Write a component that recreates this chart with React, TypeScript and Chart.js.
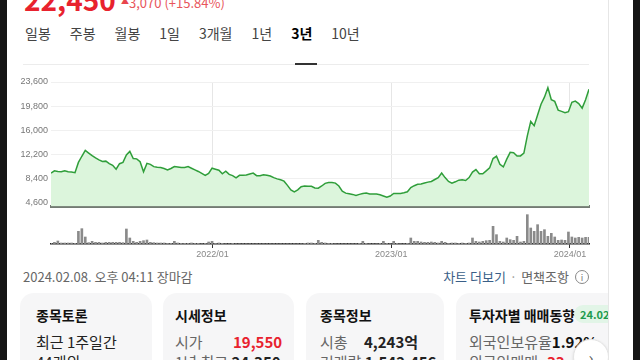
import React, { useEffect, useRef } from "react";
import { Chart, registerables } from "chart.js";

Chart.register(...registerables);

// ---- data ----
const START_DATE = Date.UTC(2021, 1, 5); // first weekly point (Friday)
const DAY_MS = 86400000;

const prices = [
  9270, 9630, 9530, 9480, 9630, 9480, 9430, 9330, 10950, 11920,
  12830, 12420, 12020, 11660, 11360, 11100, 11150, 10750, 10490, 9880,
  10750, 10950, 12120, 12680, 11560, 11510, 11050, 9480, 10800, 10650,
  10290, 10190, 10140, 9990, 9780, 9990, 10290, 10240, 10140, 10140,
  10290, 10040, 9780, 9530, 9220, 8920, 9220, 10040, 9880, 9730,
  9170, 9580, 9070, 8870, 8510, 8920, 8920, 8970, 9120, 9270,
  8870, 8870, 9020, 8920, 8820, 8560, 8360, 8210, 8000, 7340,
  6630, 6330, 6630, 7140, 7240, 7190, 7190, 6940, 6890, 7240,
  7650, 7800, 7800, 7700, 7240, 6430, 6120, 6020, 5920, 5770,
  5920, 6070, 6120, 5970, 5970, 5970, 5870, 5670, 5460, 5670,
  6070, 6070, 6070, 6180, 6330, 6990, 7290, 7500, 7550, 7700,
  7850, 7950, 8260, 8560, 9270, 8560, 7950, 7700, 7900, 8160,
  8210, 8110, 8560, 9430, 9830, 9170, 9170, 9630, 10090, 11560,
  11920, 10650, 10240, 11460, 12530, 12480, 11970, 11970, 12420, 15120,
  17400, 16740, 18420, 20100, 21210, 22700, 20810, 20550, 19180, 18980,
  18770, 18930, 20400, 20600, 20200, 19490, 20810, 22450,
];

const volumes = [
  200, 500, 900, 300, 300, 300, 300, 200, 3800, 4600,
  2100, 400, 800, 500, 500, 300, 500, 500, 500, 500,
  500, 400, 4500, 1800, 800, 500, 800, 1000, 1200, 500,
  400, 300, 300, 300, 200, 200, 800, 300, 200, 200,
  200, 300, 200, 200, 100, 200, 600, 800, 200, 300,
  200, 100, 100, 200, 100, 100, 100, 100, 100, 100,
  100, 100, 100, 100, 100, 100, 100, 100, 100, 100,
  100, 100, 100, 100, 200, 300, 300, 200, 1100, 500,
  300, 200, 200, 100, 100, 100, 100, 100, 100, 100,
  200, 800, 200, 100, 100, 100, 200, 800, 200, 100,
  800, 200, 100, 100, 200, 1800, 800, 800, 600, 500,
  500, 600, 500, 300, 800, 500, 200, 300, 300, 200,
  300, 200, 300, 1800, 800, 600, 800, 1000, 1100, 5300,
  2800, 800, 600, 1800, 1300, 1100, 2300, 600, 800, 8800,
  4800, 3800, 5800, 3800, 4300, 2300, 3200, 2100, 1100, 1200,
  1100, 3600, 2100, 1800, 2000, 1800, 2000, 2000,
];

const weekDates = prices.map((_, i) => START_DATE + i * 7 * DAY_MS);
const priceTicks = [4600, 8400, 12200, 16000, 19800, 23600];
const yearTickDates = [Date.UTC(2022, 0, 1), Date.UTC(2023, 0, 1), Date.UTC(2024, 0, 1)];
const yearTickLabels = ["2022/01", "2023/01", "2024/01"];
const tabs = ["일봉", "주봉", "월봉", "1일", "3개월", "1년", "3년", "10년"];
const activeTab = "3년";

const LINE_COLOR = "#2f9e3a";
const FILL_COLOR = "#dcf5dc";
const KR = '"Noto Sans CJK KR", "Noto Sans", sans-serif';
const TICK_FONT = { family: '"Liberation Sans", Arial, sans-serif', size: 9 };

function PriceChart() {
  const ref = useRef<HTMLCanvasElement>(null);
  useEffect(() => {
    const chart = new Chart(ref.current!, {
      type: "line",
      data: {
        datasets: [
          {
            data: weekDates.map((d, i) => ({ x: d, y: prices[i] })),
            borderColor: LINE_COLOR,
            backgroundColor: FILL_COLOR,
            borderWidth: 1.5,
            pointRadius: 0,
            fill: "start",
            tension: 0,
          },
        ],
      },
      options: {
        responsive: false,
        animation: false,
        devicePixelRatio: 1,
        layout: { padding: { left: 0, right: 51, top: 12, bottom: 4 } },
        plugins: { legend: { display: false }, tooltip: { enabled: false } },
        scales: {
          x: {
            type: "linear",
            min: weekDates[0],
            max: weekDates[weekDates.length - 1],
            afterBuildTicks: (s: any) => {
              s.ticks = yearTickDates.map((v) => ({ value: v }));
            },
            ticks: { display: false },
            grid: { color: "#e6e6e6", drawTicks: false },
            border: { display: true, color: "#737b73", width: 3 },
          },
          y: {
            min: 4000,
            max: 23600,
            afterBuildTicks: (s: any) => {
              s.ticks = priceTicks.map((v) => ({ value: v }));
            },
            afterFit: (s: any) => {
              s.width = 51;
            },
            ticks: {
              padding: 3,
              color: "#777",
              font: TICK_FONT,
              callback: (v: any) => Number(v).toLocaleString("en-US"),
            },
            grid: { color: "#f0f0f0", drawTicks: false },
            border: { display: false },
          },
        },
      } as any,
    });
    return () => chart.destroy();
  }, []);
  return (
    <canvas
      ref={ref}
      width={640}
      height={145}
      style={{ position: "absolute", left: 0, top: 70, width: 640, height: 145 }}
    />
  );
}

function VolumeChart() {
  const ref = useRef<HTMLCanvasElement>(null);
  useEffect(() => {
    const chart = new Chart(ref.current!, {
      type: "bar",
      data: {
        datasets: [
          {
            data: weekDates.map((d, i) => ({ x: d, y: volumes[i] })),
            backgroundColor: "#8a8a8a",
            barThickness: 2,
          },
        ],
      },
      options: {
        responsive: false,
        animation: false,
        devicePixelRatio: 1,
        layout: { padding: { left: 51, right: 51, top: 9, bottom: 0 } },
        plugins: { legend: { display: false }, tooltip: { enabled: false } },
        scales: {
          x: {
            type: "linear",
            offset: false,
            min: weekDates[0],
            max: weekDates[weekDates.length - 1],
            afterBuildTicks: (s: any) => {
              s.ticks = yearTickDates.map((v) => ({ value: v }));
            },
            afterFit: (s: any) => {
              s.height = 16;
            },
            ticks: {
              padding: 1,
              color: "#888",
              font: TICK_FONT,
              maxRotation: 0,
              callback: (_v: any, i: number) => yearTickLabels[i],
            },
            grid: { drawOnChartArea: false, drawTicks: true, tickLength: 4, tickColor: "#333", offset: false },
            border: { display: true, color: "#222", width: 1.5 },
          },
          y: { display: false, min: 0, max: 9000 },
        },
      } as any,
    });
    return () => chart.destroy();
  }, []);
  return (
    <canvas
      ref={ref}
      width={640}
      height={55}
      style={{ position: "absolute", left: 0, top: 205, width: 640, height: 55 }}
    />
  );
}

const abs = (left: number, top: number, extra: React.CSSProperties = {}): React.CSSProperties => ({
  position: "absolute",
  left,
  top,
  whiteSpace: "nowrap",
  ...extra,
});

function Card({ left, width, children }: { left: number; width: number; children?: React.ReactNode }) {
  return (
    <div
      style={{
        position: "absolute",
        left,
        top: 293,
        width,
        height: 100,
        background: "#f6f6f7",
        borderRadius: 14,
      }}
    >
      {children}
    </div>
  );
}

export default function App() {
  const t = { fontSize: 14, fontWeight: 700, color: "#111", lineHeight: "14px" } as React.CSSProperties;
  const row = { fontSize: 15, color: "#222", lineHeight: "15px" } as React.CSSProperties;
  const label = { ...row, color: "#666" } as React.CSSProperties;
  return (
    <div
      style={{
        position: "fixed",
        left: 0,
        top: 0,
        width: 640,
        height: 360,
        overflow: "hidden",
        background: "#fff",
        fontFamily: KR,
      }}
    >
      <div style={{ position: "absolute", left: 0, top: 0, width: 608, height: 360, overflow: "hidden" }}>
        {/* price header */}
        <div style={abs(24, -15, { fontSize: 28, fontWeight: 700, color: "#e8222e", lineHeight: "28px" })}>22,450</div>
        <div style={abs(121, -3, { fontSize: 8, color: "#e8454d", lineHeight: "8px" })}>▲</div>
        <div style={abs(129, -4, { fontSize: 13, color: "#e8555b", lineHeight: "13px" })}>3,070 (+15.84%)</div>

        {/* tabs */}
        <div style={{ position: "absolute", left: 25, top: 26, display: "flex", gap: 19 }}>
          {tabs.map((tb) => (
            <div
              key={tb}
              style={{
                fontSize: 14,
                lineHeight: "14px",
                color: tb === activeTab ? "#000" : "#444",
                fontWeight: tb === activeTab ? 700 : 400,
              }}
            >
              {tb}
            </div>
          ))}
        </div>
        <div style={abs(23, 64, { width: 566, height: 1, background: "#ececec" })} />
        <div style={abs(295, 63, { width: 22, height: 2, background: "#333" })} />

        <PriceChart />
        <VolumeChart />

        {/* footer line */}
        <div style={abs(23, 270, { fontSize: 13, color: "#666", lineHeight: "14px" })}>2024.02.08. 오후 04:11 장마감</div>
        <div
          style={{
            position: "absolute",
            right: 19,
            top: 270,
            display: "flex",
            alignItems: "center",
            gap: 4,
            fontSize: 13,
            lineHeight: "14px",
            whiteSpace: "nowrap",
          }}
        >
          <span style={{ color: "#3a5f88" }}>차트 더보기</span>
          <span style={{ color: "#999" }}>·</span>
          <span style={{ color: "#666" }}>면책조항</span>
          <span
            style={{
              display: "inline-flex",
              alignItems: "center",
              justifyContent: "center",
              width: 12,
              height: 12,
              borderRadius: "50%",
              border: "1px solid #888",
              color: "#777",
              fontSize: 9,
              lineHeight: "9px",
              marginLeft: 2,
            }}
          >
            i
          </span>
        </div>

        {/* cards */}
        <Card left={20} width={132}>
          <div style={abs(16, 15, t)}>종목토론</div>
          <div style={abs(16, 41, row)}>최근 1주일간</div>
          <div style={abs(16, 61, row)}>44개의</div>
        </Card>
        <Card left={163} width={131}>
          <div style={abs(12, 15, t)}>시세정보</div>
          <div style={abs(12, 41, label)}>시가</div>
          <div style={abs(70, 41, { ...row, color: "#e8222e", fontWeight: 700 })}>19,550</div>
          <div style={abs(12, 61, label)}>
            1년 최고 <span style={{ color: "#222", fontWeight: 700 }}>24,350</span>
          </div>
        </Card>
        <Card left={306} width={138}>
          <div style={abs(14, 15, t)}>종목정보</div>
          <div style={abs(14, 41, label)}>시총</div>
          <div style={abs(58, 41, { ...row, fontWeight: 700 })}>4,243억</div>
          <div style={abs(14, 61, label)}>
            거래량 <span style={{ color: "#222", fontWeight: 700 }}>1,542,456</span>
          </div>
        </Card>
        <Card left={456} width={170}>
          <div style={abs(13, 15, t)}>투자자별 매매동향</div>
          <div
            style={abs(118, 12, {
              fontSize: 11,
              fontWeight: 700,
              color: "#1e9b4e",
              background: "#e2f5e7",
              borderRadius: 9,
              padding: "2px 6px",
              lineHeight: "14px",
            })}
          >
            24.02.08
          </div>
          <div style={abs(13, 41, label)}>
            외국인보유율<span style={{ color: "#111", fontWeight: 700 }}>1.92%</span>
          </div>
          <div style={abs(13, 61, label)}>
            외국인매매 <span style={{ color: "#e8222e", fontWeight: 700 }}>-33</span>
          </div>
        </Card>
        <div
          style={{
            position: "absolute",
            left: 573,
            top: 339,
            width: 34,
            height: 34,
            borderRadius: "50%",
            background: "#fff",
            border: "1px solid #e4e4e4",
            boxShadow: "0 1px 3px rgba(0,0,0,0.12)",
            color: "#555",
            fontSize: 16,
            lineHeight: "34px",
            textAlign: "center",
          }}
        >
          ›
        </div>
      </div>
      {/* frame */}
      <div style={abs(608, 0, { width: 1, height: 360, background: "#e6e6e6" })} />
      <div style={abs(0, 0, { width: 7, height: 360, background: "#151515" })} />
      <div style={abs(633, 0, { width: 7, height: 360, background: "#151515" })} />
    </div>
  );
}
